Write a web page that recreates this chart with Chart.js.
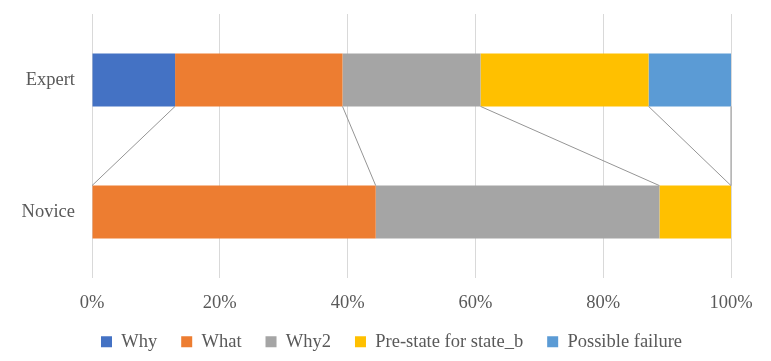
<!DOCTYPE html>
<html>
<head>
<meta charset="utf-8">
<script src="https://cdn.jsdelivr.net/npm/chart.js@4/dist/chart.umd.min.js"></script>
<style>
  html, body { margin: 0; padding: 0; background: #fff; }
  #wrap { width: 771px; height: 361px; }
</style>
</head>
<body>
<div id="wrap"><canvas id="chartCanvas" width="771" height="361"></canvas></div>
<script>
// categories and series (percent of each group)
const groups = ['Expert', 'Novice'];
const seriesNames = ['Why', 'What', 'Why2', 'Pre-state for state_b', 'Possible failure'];
const seriesColors = ['#4472C4', '#ED7D31', '#A5A5A5', '#FFC000', '#5B9BD5'];
const why = [13.0, 0];
const what = [26.2, 44.4];
const why2 = [21.6, 44.4];
const preState = [26.3, 11.2];
const possibleFailure = [12.9, 0];
const seriesValues = [why, what, why2, preState, possibleFailure];
const xTicks = [0, 20, 40, 60, 80, 100];

const font = { family: '"Liberation Serif", "Times New Roman", serif', size: 18.5 };
const textColor = '#595959';
const plotBottom = 278;
const legendShift = 26;

const datasets = seriesNames.map((name, i) => ({
  label: name,
  data: seriesValues[i],
  backgroundColor: seriesColors[i],
  borderWidth: 0,
  barPercentage: 0.4,
  categoryPercentage: 1.0
}));

// Excel-style series lines between the two stacked bars
const seriesLines = {
  id: 'seriesLines',
  afterDatasetsDraw(chart) {
    const ctx = chart.ctx;
    ctx.save();
    ctx.strokeStyle = '#959595';
    ctx.lineWidth = 1;
    chart.data.datasets.forEach((ds, i) => {
      const meta = chart.getDatasetMeta(i);
      const top = meta.data[0];
      const bottom = meta.data[1];
      ctx.beginPath();
      ctx.moveTo(top.x, top.y + top.height / 2);
      ctx.lineTo(bottom.x, bottom.y - bottom.height / 2);
      ctx.stroke();
    });
    ctx.restore();
  }
};

// legend in the original sits a bit right of the canvas centre
const nudgeLegend = {
  id: 'nudgeLegend',
  afterLayout(chart) {
    chart.legend.left += legendShift;
    chart.legend.right += legendShift;
  }
};

new Chart(document.getElementById('chartCanvas').getContext('2d'), {
  type: 'bar',
  data: { labels: groups, datasets: datasets },
  options: {
    indexAxis: 'y',
    responsive: false,
    animation: false,
    layout: { padding: { top: 14, right: 40, left: 0, bottom: 0 } },
    scales: {
      x: {
        stacked: true,
        min: 0,
        max: 100,
        afterBuildTicks(axis) { axis.ticks = xTicks.map(v => ({ value: v })); },
        border: { display: false },
        grid: { color: '#d9d9d9', lineWidth: 1, drawTicks: false },
        ticks: {
          color: textColor,
          font: font,
          padding: 14,
          callback: v => v + '%'
        },
        afterFit(axis) {
          const lg = axis.chart.legend;
          if (lg && lg.height) axis.height = axis.chart.height - lg.height - plotBottom;
        }
      },
      y: {
        stacked: true,
        border: { display: false },
        grid: { display: false, drawTicks: false },
        ticks: { color: textColor, font: font, padding: 17 },
        afterFit(axis) {
          axis.width = 92;
          axis.paddingTop = 0;
          axis.paddingBottom = 0;
        }
      }
    },
    plugins: {
      legend: {
        position: 'bottom',
        labels: {
          color: textColor,
          font: font,
          boxWidth: 11,
          boxHeight: 11,
          padding: 24
        }
      },
      tooltip: { enabled: false }
    }
  },
  plugins: [seriesLines, nudgeLegend]
});
</script>
</body>
</html>
